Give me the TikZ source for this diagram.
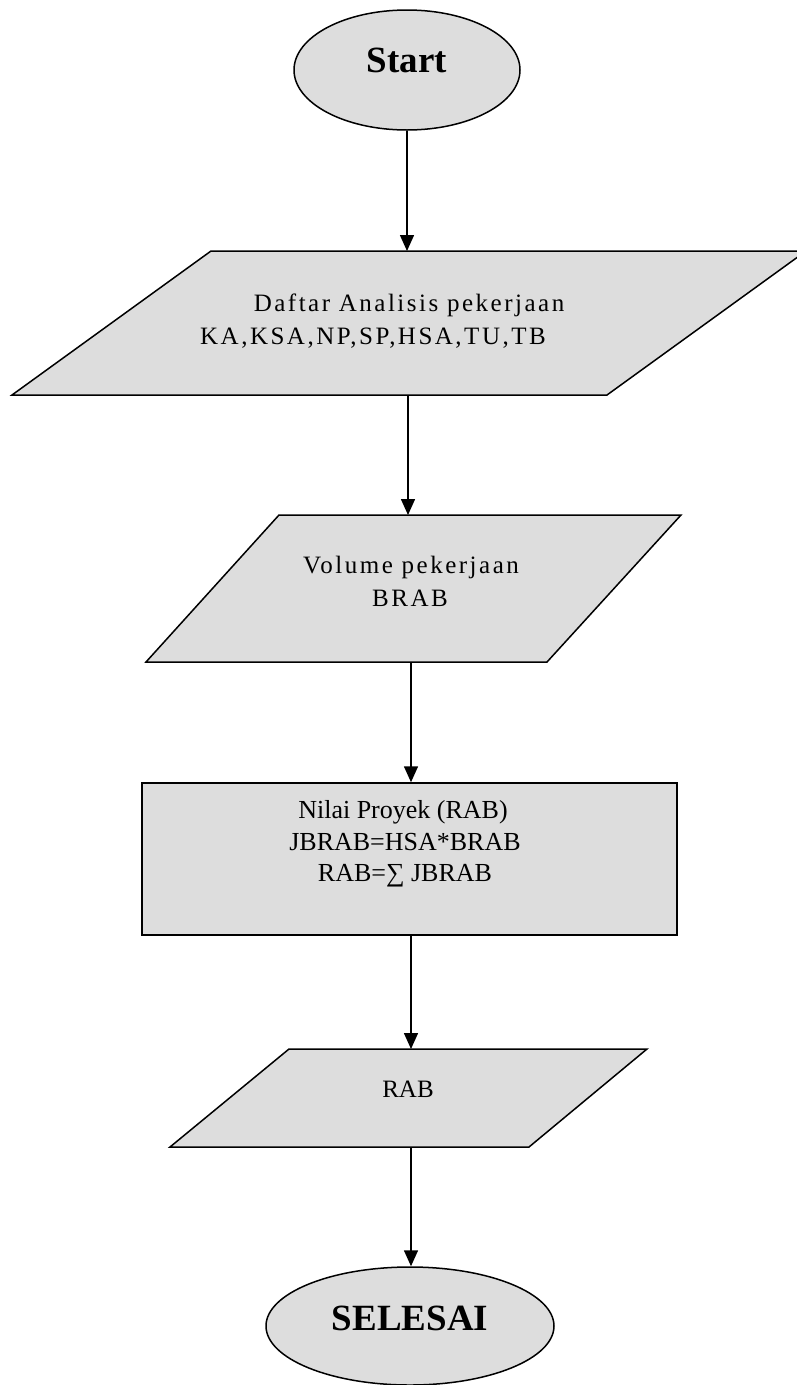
\documentclass[tikz,border=0pt]{standalone}
\usepackage{fontspec}
\setmainfont{Liberation Serif}
\newfontfamily\spacedfont[LetterSpace=10]{Liberation Serif}
\usetikzlibrary{shapes.geometric,arrows.meta}
\definecolor{boxfill}{RGB}{221,221,221}
\begin{document}
\begin{tikzpicture}[x=1pt,y=-1pt,
  shapeline/.style={draw=black, line width=1.5pt, fill=boxfill, line join=miter},
  term/.style={shapeline, ellipse, inner sep=0pt},
  procbox/.style={shapeline, rectangle, inner sep=0pt},
  arr/.style={draw=black, line width=1.5pt, -{Triangle[width=14pt,length=16pt]}},
  bigtxt/.style={anchor=base, inner sep=0pt, font=\fontsize{37}{42}\selectfont\bfseries},
  sptxt/.style={anchor=base, inner sep=0pt, font=\fontsize{25}{30}\selectfont\spacedfont},
  plaintxt/.style={anchor=base, inner sep=0pt, font=\fontsize{26}{31}\selectfont},
]
\useasboundingbox (0,0) rectangle (796,1385);

% Start
\node[term, minimum width=226pt, minimum height=120pt] (start) at (407,70) {};
\node[bigtxt] (starttxt) at (407,72) {Start};

% Input 1
\draw[shapeline] (211,251) -- (806,251) -- (607,395) -- (12,395) -- cycle;
\coordinate (p1top) at (407,251);
\coordinate (p1bot) at (408,395);
\node[sptxt] (daftar) at (409,311) {Daftar Analisis pekerjaan};
\node[sptxt] (ka) at (373,344) {KA,KSA,NP,SP,HSA,TU,TB};

% Input 2
\draw[shapeline] (279,515) -- (681,515) -- (547,662) -- (146,662) -- cycle;
\coordinate (p2top) at (408,515);
\coordinate (p2bot) at (411,662);
\node[sptxt] (volume) at (411,573) {Volume pekerjaan};
\node[sptxt] (brab) at (410,606) {BRAB};

% Process
\node[procbox, minimum width=535pt, minimum height=152pt] (proc) at (409.5,859) {};
\node[plaintxt] (nilai) at (403,818) {Nilai Proyek (RAB)};
\node[plaintxt] (jbrab) at (405,850) {JBRAB=HSA*BRAB};
\node[plaintxt] (sum) at (405,881) {RAB=∑ JBRAB};

% Output
\draw[shapeline] (289,1049) -- (647,1049) -- (529,1147) -- (170,1147) -- cycle;
\coordinate (p3top) at (411,1049);
\coordinate (p3bot) at (411,1147);
\node[plaintxt, font=\fontsize{25}{30}\selectfont] (rab) at (408,1097) {RAB};

% End
\node[term, minimum width=288pt, minimum height=118pt] (selesai) at (410,1326) {};
\node[bigtxt] (selesaitxt) at (410,1330) {SELESAI};

% Connectors
\draw[arr] (start.south) -- (p1top);
\draw[arr] (p1bot) -- (p2top);
\draw[arr] (p2bot) -- (p2bot |- proc.north);
\draw[arr] (p3top |- proc.south) -- (p3top);
\draw[arr] (p3bot) -- (p3bot |- selesai.north);
\end{tikzpicture}
\end{document}
